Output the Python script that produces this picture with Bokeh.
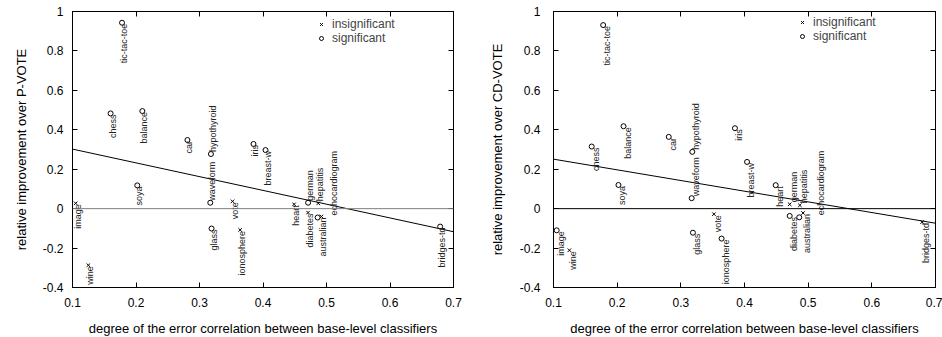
import numpy as np
from bokeh.plotting import figure
from bokeh.layouts import row
from bokeh.models import (ColumnDataSource, LinearAxis, FixedTicker, CustomJSTickFormatter,
                          Legend, LegendItem, Range1d, Span)
from bokeh.embed import file_html
from bokeh.resources import INLINE
from bokeh.core.properties import value

# ---------------- data ----------------
datasets = ["tic-tac-toe", "chess", "balance", "car", "hypothyroid", "waveform", "soya",
            "image", "wine", "glass", "vote", "ionosphere", "iris", "breast-w", "heart",
            "german", "diabetes", "hepatitis", "australian", "echocardiogram", "bridges-td"]
correlation = [0.178, 0.160, 0.210, 0.281, 0.318, 0.317, 0.202,
               0.105, 0.125, 0.319, 0.352, 0.364, 0.385, 0.404, 0.449,
               0.471, 0.471, 0.487, 0.492, 0.486, 0.679]
improvement_pvote = [0.943, 0.483, 0.495, 0.348, 0.277, 0.030, 0.118,
                     0.027, -0.287, -0.101, 0.037, -0.108, 0.328, 0.297, 0.022,
                     0.030, -0.020, 0.027, -0.040, -0.045, -0.091]
significant_pvote = [1, 1, 1, 1, 1, 1, 1,
                     0, 0, 1, 0, 0, 1, 1, 0,
                     1, 0, 0, 0, 1, 1]
improvement_cdvote = [0.931, 0.315, 0.418, 0.364, 0.288, 0.053, 0.120,
                      -0.110, -0.211, -0.122, -0.028, -0.152, 0.408, 0.237, 0.119,
                      0.022, -0.037, 0.017, -0.022, -0.044, -0.068]
significant_cdvote = [1, 1, 1, 1, 1, 1, 1,
                      1, 0, 1, 0, 1, 1, 1, 1,
                      0, 1, 0, 0, 1, 0]
fit_x = [0.1, 0.7]
fit_pvote = [0.302, -0.117]
fit_cdvote = [0.251, -0.074]
x_ticks = [0.1, 0.2, 0.3, 0.4, 0.5, 0.6, 0.7]
y_ticks = [-0.4, -0.2, 0.0, 0.2, 0.4, 0.6, 0.8, 1.0]
x_title = "degree of the error correlation between base-level classifiers"
legend_labels = ["insignificant", "significant"]

# labels drawn upward from their point (others hang downward)
labels_up = {"hypothyroid", "waveform", "german", "hepatitis", "echocardiogram"}

FONT = "Liberation Sans"
fmt = CustomJSTickFormatter(code="return Number(tick.toFixed(1)).toString();")


def panel(impr, sig, fit_y, ylabel, border_left, frame_w, border_right, zero_color,
          y_standoff, y_title_standoff, text_dx, extra_dx, legend_pos):
    p = figure(frame_width=frame_w, frame_height=276,
               x_range=Range1d(0.1, 0.7), y_range=Range1d(-0.4, 1.0),
               output_backend="svg", toolbar_location=None,
               min_border_left=border_left, min_border_right=border_right,
               min_border_top=11, min_border_bottom=50)
    p.grid.visible = False
    p.outline_line_color = "black"
    p.outline_line_width = 1
    p.background_fill_color = "white"
    p.border_fill_color = "white"

    p.xaxis.ticker = FixedTicker(ticks=x_ticks)
    p.yaxis.ticker = FixedTicker(ticks=y_ticks)
    p.xaxis.formatter = fmt
    p.yaxis.formatter = fmt
    p.xaxis.axis_label = x_title
    p.yaxis.axis_label = ylabel
    for ax in (p.xaxis[0], p.yaxis[0]):
        ax.major_tick_in = 5
        ax.major_tick_out = 0
        ax.minor_tick_line_color = None
        ax.axis_line_color = "black"
        ax.major_tick_line_color = "black"
        ax.major_label_text_font = FONT
        ax.major_label_text_font_size = "12px"
        ax.major_label_text_color = "black"
        ax.axis_label_text_font = FONT
        ax.axis_label_text_font_size = "13px"
        ax.axis_label_text_font_style = "normal"
        ax.axis_label_text_color = "black"
    p.xaxis.major_label_standoff = 10
    p.xaxis.axis_label_standoff = 11
    p.yaxis.major_label_standoff = y_standoff
    p.yaxis.axis_label_standoff = y_title_standoff

    for place, ticks in (("above", x_ticks), ("right", y_ticks)):
        p.add_layout(LinearAxis(ticker=FixedTicker(ticks=ticks), major_label_text_font_size="1px",
                                major_label_text_color=None,
                                major_tick_in=5, major_tick_out=0, minor_tick_line_color=None,
                                major_label_standoff=0, axis_line_color="black"), place)

    p.add_layout(Span(location=0, dimension="width", line_color=zero_color, line_width=1))
    p.line(fit_x, fit_y, line_color="black", line_width=1)

    ins = [i for i, s in enumerate(sig) if not s]
    sgn = [i for i, s in enumerate(sig) if s]
    src_ins = ColumnDataSource(dict(x=[correlation[i] for i in ins], y=[impr[i] for i in ins]))
    src_sig = ColumnDataSource(dict(x=[correlation[i] for i in sgn], y=[impr[i] for i in sgn]))
    r_ins = p.scatter("x", "y", source=src_ins, marker="x", size=5, line_color="black", line_width=1)
    r_sig = p.scatter("x", "y", source=src_sig, marker="circle", size=5, fill_color=None,
                      line_color="black", line_width=1)

    up = [i for i, n in enumerate(datasets) if n in labels_up]
    down = [i for i, n in enumerate(datasets) if n not in labels_up]
    for idx, align, yoff in ((down, "right", 1), (up, "left", -2)):
        s = ColumnDataSource(dict(x=[correlation[i] for i in idx], y=[impr[i] for i in idx],
                                  t=[datasets[i] for i in idx],
                                  dx=[text_dx + extra_dx.get(datasets[i], 0) for i in idx]))
        p.text("x", "y", text="t", source=s, angle=np.pi / 2, text_align=align,
               text_baseline="middle", x_offset="dx", y_offset=yoff,
               text_font=value(FONT), text_font_size="9px", text_color="#222222")

    for label, rend, pos in zip(legend_labels, (r_ins, r_sig), legend_pos):
        leg = Legend(items=[LegendItem(label=label, renderers=[rend])],
                     location=pos, border_line_color=None, background_fill_alpha=0,
                     label_text_font=FONT, label_text_font_size="12px", glyph_width=10,
                     glyph_height=10, label_height=10, spacing=0, padding=0, margin=0,
                     label_standoff=6)
        p.add_layout(leg)
    return p


p1 = panel(improvement_pvote, significant_pvote, fit_pvote, "relative improvement over P-VOTE",
           72, 381, 17, "#7f7f7f", 9, 11, 2, {"echocardiogram": 14}, [(244, 256), (244, 242)])
p2 = panel(improvement_cdvote, significant_cdvote, fit_cdvote, "relative improvement over CD-VOTE",
           83, 382, 7, "black", 13, 12, 4, {"echocardiogram": 18}, [(244, 258), (244, 244)])

layout = row(p1, p2)
with open("out.html", "w") as f:
    f.write(file_html(layout, INLINE))
